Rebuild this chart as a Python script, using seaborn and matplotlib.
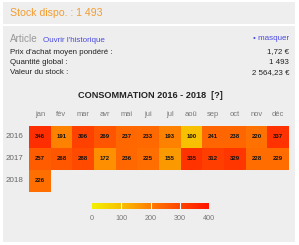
import matplotlib
matplotlib.use("Agg")
import matplotlib.pyplot as plt
import numpy as np
import pandas as pd
import seaborn as sns
from matplotlib.colors import LinearSegmentedColormap
from matplotlib.patches import Rectangle

months = ["jan", "fév", "mar", "avr", "mai", "jui", "jul", "aoû", "sep", "oct", "nov", "déc"]
years = ["2016", "2017", "2018"]
conso_2016 = [346, 191, 306, 269, 237, 233, 193, 100, 241, 238, 220, 337]
conso_2017 = [257, 268, 288, 172, 236, 225, 155, 335, 312, 329, 228, 229]
conso_2018 = [226] + [np.nan] * 11
cbar_ticks = [0, 100, 200, 300, 400]

info_labels = ["Prix d'achat moyen pondéré :", "Quantité global :", "Valeur du stock :"]
info_values = ["1,72 €", "1 493", "2 564,23 €"]

df = pd.DataFrame([conso_2016, conso_2017, conso_2018], index=years, columns=months)

W, H = 299, 245
plt.rcParams["font.family"] = ["Liberation Sans", "DejaVu Sans"]

cmap = LinearSegmentedColormap.from_list(
    "conso",
    [(0.0, "#f2f000"), (0.25, "#f7c000"), (0.5, "#ff7c00"), (0.75, "#ff4400"), (1.0, "#ff1400")],
)

fig = plt.figure(figsize=(W / 100, H / 100), dpi=100, facecolor="white")


def fx(x):
    return x / W


def fy(y):
    return 1 - y / H


# gray panels, behind the axes
fig.patches.append(Rectangle((fx(3), fy(24)), fx(292), 22 / H, transform=fig.transFigure,
                             facecolor="#eeeeee", edgecolor="none", zorder=-5))
fig.patches.append(Rectangle((fx(3), fy(242)), fx(292), 216 / H, transform=fig.transFigure,
                             facecolor="#eeeeee", edgecolor="none", zorder=-5))

fig.text(fx(10), fy(13), "Stock dispo. : 1 493", color="#f39c2e", fontsize=7.6, va="center")
fig.text(fx(10), fy(39), "Article", color="#999999", fontsize=7.2, va="center")
fig.text(fx(43), fy(40), "Ouvrir l'historique", color="#4a4ae0", fontsize=5.8, va="center")
fig.text(fx(289), fy(39), "• masquer", color="#4a4ae0", fontsize=5.8, va="center", ha="right")
for i, (lab, val) in enumerate(zip(info_labels, info_values)):
    y = 52 + i * 10.5
    fig.text(fx(10), fy(y), lab, color="#222222", fontsize=5.7, va="center")
    fig.text(fx(289), fy(y), val, color="#222222", fontsize=5.7, va="center", ha="right")

fig.text(fx(150), fy(95), "CONSOMMATION 2016 - 2018  [?]", color="#222222", fontsize=6.6,
         fontweight="bold", va="center", ha="center")

ax = fig.add_axes([fx(29), fy(192), 260 / W, 66 / H])
cax = fig.add_axes([fx(92), fy(209), 117 / W, 6 / H])

sns.heatmap(
    df,
    ax=ax,
    cmap=cmap,
    vmin=0,
    vmax=400,
    annot=True,
    fmt=".0f",
    annot_kws={"fontsize": 4.3, "fontweight": "bold", "color": "#111111"},
    cbar_ax=cax,
    cbar_kws={"orientation": "horizontal", "ticks": cbar_ticks},
    linewidths=0,
)
ax.set_facecolor("#eeeeee")
ax.xaxis.tick_top()
ax.set_xlabel("")
ax.set_ylabel("")
ax.tick_params(axis="x", length=0, pad=6, labelsize=5.4, labelcolor="#777777")
ax.tick_params(axis="y", length=0, pad=4, labelsize=5.8, labelcolor="#666666")
plt.setp(ax.get_yticklabels(), rotation=0)
plt.setp(ax.get_xticklabels(), rotation=0)

cax.tick_params(length=0, pad=4, labelsize=5.2, labelcolor="#777777")
for s in cax.spines.values():
    s.set_visible(False)
for t in [100, 200, 300]:
    cax.axvline(t, color="white", lw=0.8)

fig.savefig("out.png", dpi=100, facecolor="white")
